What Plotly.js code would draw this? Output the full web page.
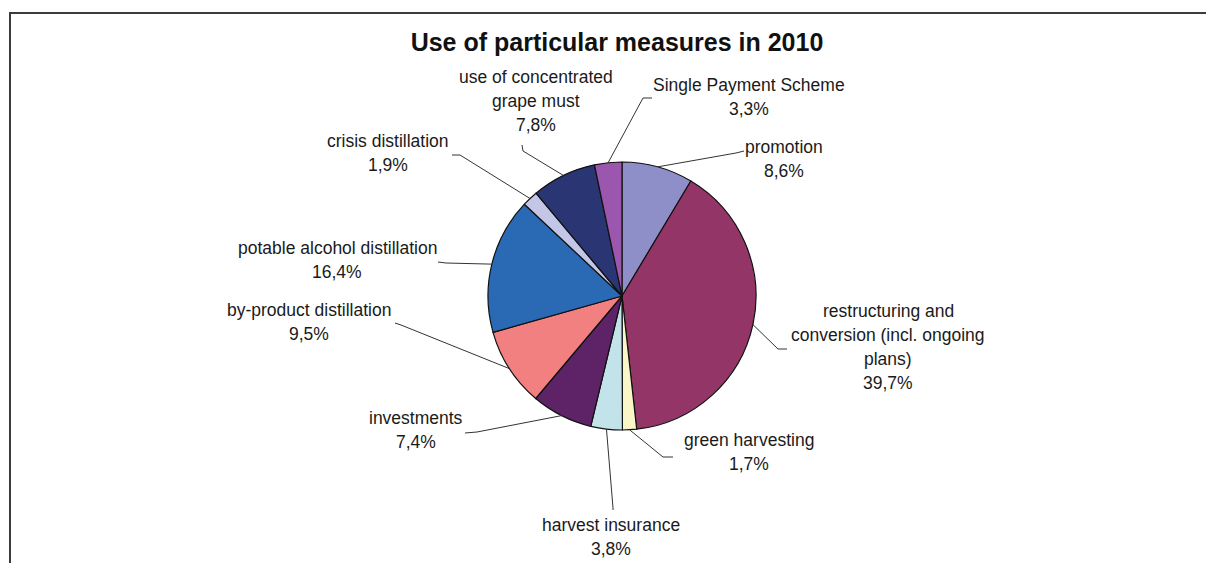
<!DOCTYPE html>
<html>
<head>
<meta charset="utf-8">
<script src="https://cdn.plot.ly/plotly-3.0.1.min.js"></script>
<style>
  html, body { margin: 0; padding: 0; background: #ffffff; }
  #chart { width: 1206px; height: 563px; }
</style>
</head>
<body>
<div id="chart"></div>
<script>
// ---- data ----
var categories = [
  "promotion",
  "restructuring and<br>conversion (incl. ongoing<br>plans)",
  "green harvesting",
  "harvest insurance",
  "investments",
  "by-product distillation",
  "potable alcohol distillation",
  "crisis distillation",
  "use of concentrated<br>grape must",
  "Single Payment Scheme"
];
var shares = [8.6, 39.7, 1.7, 3.8, 7.4, 9.5, 16.4, 1.9, 7.8, 3.3];
var chartTitle = "Use of particular measures in 2010";

// ---- style ----
var sliceColors = ["#8E8FC9", "#933667", "#FAF6C8", "#C2E3EA", "#5E2267",
                   "#F38080", "#2A6AB4", "#C3C6E6", "#2A3573", "#9B57AE"];
var W = 1206, H = 563;
var cx = 622, cy = 296, R = 134;
// label block positions (center x, first-line center y) in pixels
var labelPosX = [784, 888, 749, 611, 416, 309, 337, 388, 536, 749];
var labelPosY = [147, 311, 440, 525, 418, 310, 248, 141, 77, 85];
// leader line outer end and elbow in pixels
var tailX  = [744, 787, 673, 613, 465, 395, 438, 452, 522, 652];
var tailY  = [151, 349, 457, 510, 433, 323, 262, 155, 145, 98];
var elbowX = [736, 778, 663, 613, 477, 401, 446, 460, 523, 643];
var elbowY = [153, 349, 457, 508, 432, 325, 263, 155, 151, 98];
var lineGap = 24;
var labelFont = {family: "Liberation Sans, Arial, sans-serif", size: 17.5, color: "#1a1a1a"};

function px(x) { return x / W; }
function py(y) { return 1 - y / H; }

var total = shares.reduce(function (a, b) { return a + b; }, 0);

var annotations = [];
var shapes = [];
var cum = 0;
for (var i = 0; i < shares.length; i++) {
  var mid = (cum + shares[i] / 2) / total * 2 * Math.PI;  // clockwise from 12 o'clock
  cum += shares[i];
  var ex = cx + R * Math.sin(mid);
  var ey = cy - R * Math.cos(mid);
  var lines = categories[i].split("<br>");
  lines.push(shares[i].toFixed(1).replace(".", ",") + "%");
  for (var k = 0; k < lines.length; k++) {
    annotations.push({
      xref: "paper", yref: "paper",
      x: px(labelPosX[i]), y: py(labelPosY[i] + k * lineGap),
      xanchor: "center", yanchor: "middle",
      text: lines[k], showarrow: false, font: labelFont
    });
  }
  shapes.push({
    type: "path", xref: "paper", yref: "paper", layer: "above",
    path: "M " + px(tailX[i]) + " " + py(tailY[i]) +
          " L " + px(elbowX[i]) + " " + py(elbowY[i]) +
          " L " + px(ex) + " " + py(ey),
    line: {color: "#333333", width: 1}
  });
}

// frame lines
shapes.push({type: "line", xref: "paper", yref: "paper", x0: px(9), y0: py(13), x1: px(W), y1: py(13),
             line: {color: "#3c3c3c", width: 2}});
shapes.push({type: "line", xref: "paper", yref: "paper", x0: px(10), y0: py(12), x1: px(10), y1: py(H),
             line: {color: "#3c3c3c", width: 2}});

var trace = {
  type: "pie",
  labels: categories,
  values: shares,
  sort: false,
  direction: "clockwise",
  rotation: 0,
  textinfo: "none",
  hoverinfo: "none",
  marker: {colors: sliceColors, line: {color: "#111111", width: 1.2}},
  domain: {x: [px(cx - R), px(cx + R)], y: [py(cy + R), py(cy - R)]},
  showlegend: false
};

var layout = {
  width: W, height: H,
  margin: {l: 0, r: 0, t: 0, b: 0},
  paper_bgcolor: "#ffffff",
  plot_bgcolor: "#ffffff",
  showlegend: false,
  title: {
    text: "<b>" + chartTitle + "</b>",
    x: px(617), xanchor: "center", xref: "paper",
    y: py(42), yanchor: "middle", yref: "paper",
    font: {family: "Liberation Sans, Arial, sans-serif", size: 25, color: "#111111"}
  },
  annotations: annotations,
  shapes: shapes
};

Plotly.newPlot("chart", [trace], layout, {staticPlot: true, displayModeBar: false});
</script>
</body>
</html>
